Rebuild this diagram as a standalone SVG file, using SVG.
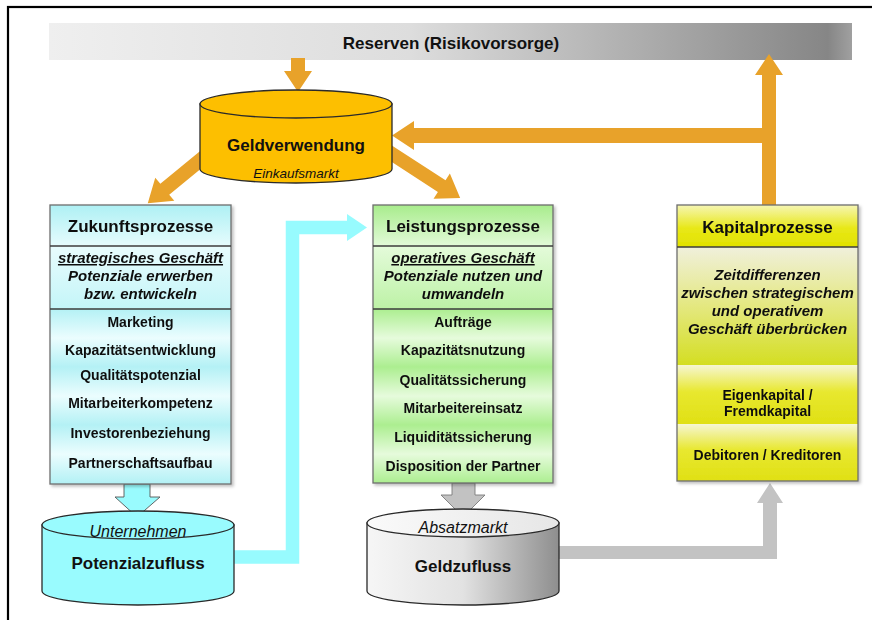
<svg xmlns="http://www.w3.org/2000/svg" width="872" height="620" viewBox="0 0 872 620">
  <style>
    .t { font-family: "Liberation Sans", Arial, sans-serif; fill: #111; text-anchor: middle; }
    .h { font-size: 17px; font-weight: bold; }
    .i { font-size: 14px; font-weight: bold; }
    .s { font-size: 15px; font-weight: bold; font-style: italic; }
    .c { font-size: 16px; font-style: italic; }
    .u { text-decoration: underline; }
    .box { stroke: #6e6e6e; stroke-width: 1.3; }
    .div { stroke: #3c3c3c; stroke-width: 1.3; }
    .cyl { stroke: #2a2a2a; stroke-width: 1.3; }
    .orange { fill: #e8a22a; }
  </style>
  <defs>
    <linearGradient id="barGrad" x1="0" y1="0" x2="1" y2="0">
      <stop offset="0" stop-color="#efefef"/>
      <stop offset="0.45" stop-color="#dddddd"/>
      <stop offset="0.97" stop-color="#868686"/>
      <stop offset="1" stop-color="#a0a0a0"/>
    </linearGradient>
    <!-- cyan box -->
    <linearGradient id="cyHead" x1="0" y1="0" x2="0" y2="1">
      <stop offset="0" stop-color="#aef0f4"/>
      <stop offset="1" stop-color="#e6fcfd"/>
    </linearGradient>
    <linearGradient id="cyMid" x1="0" y1="0" x2="0" y2="1">
      <stop offset="0" stop-color="#e8fcfd"/>
      <stop offset="1" stop-color="#c4f5f8"/>
    </linearGradient>
    <linearGradient id="cyStripe" gradientUnits="userSpaceOnUse" x1="0" y1="309" x2="0" y2="338" spreadMethod="reflect">
      <stop offset="0" stop-color="#b4f1f5"/>
      <stop offset="1" stop-color="#ebfdfe"/>
    </linearGradient>
    <!-- green box -->
    <linearGradient id="grHead" x1="0" y1="0" x2="0" y2="1">
      <stop offset="0" stop-color="#a8ec8c"/>
      <stop offset="1" stop-color="#e2fad8"/>
    </linearGradient>
    <linearGradient id="grMid" x1="0" y1="0" x2="0" y2="1">
      <stop offset="0" stop-color="#e4fbda"/>
      <stop offset="1" stop-color="#bdf2a6"/>
    </linearGradient>
    <linearGradient id="grStripe" gradientUnits="userSpaceOnUse" x1="0" y1="309" x2="0" y2="338" spreadMethod="reflect">
      <stop offset="0" stop-color="#acee90"/>
      <stop offset="1" stop-color="#e6fbdc"/>
    </linearGradient>
    <!-- yellow box -->
    <linearGradient id="yeHead" x1="0" y1="0" x2="0" y2="1">
      <stop offset="0" stop-color="#f6f6b4"/>
      <stop offset="0.55" stop-color="#e8e818"/>
      <stop offset="1" stop-color="#e2e200"/>
    </linearGradient>
    <linearGradient id="yeMid" x1="0" y1="0" x2="0" y2="1">
      <stop offset="0" stop-color="#f0f0dc"/>
      <stop offset="0.5" stop-color="#e4e880"/>
      <stop offset="1" stop-color="#d4de22"/>
    </linearGradient>
    <linearGradient id="yeLow" x1="0" y1="0" x2="0" y2="1">
      <stop offset="0" stop-color="#f6f6d2"/>
      <stop offset="0.45" stop-color="#e8e830"/>
      <stop offset="1" stop-color="#e0e014"/>
    </linearGradient>
    <!-- grey cylinder -->
    <linearGradient id="greyCyl" x1="0" y1="0" x2="1" y2="0">
      <stop offset="0" stop-color="#f6f6f6"/>
      <stop offset="0.5" stop-color="#e2e2e2"/>
      <stop offset="1" stop-color="#8e8e8e"/>
    </linearGradient>
    <linearGradient id="greyTop" x1="0" y1="0" x2="1" y2="0">
      <stop offset="0" stop-color="#fafafa"/>
      <stop offset="1" stop-color="#e6e6e6"/>
    </linearGradient>
    <filter id="shadow" x="-10%" y="-10%" width="125%" height="125%">
      <feDropShadow dx="2" dy="2" stdDeviation="1.5" flood-color="#000" flood-opacity="0.25"/>
    </filter>
  </defs>

  <rect width="872" height="620" fill="#ffffff"/>
  <!-- outer frame -->
  <rect x="8" y="7" width="900" height="700" fill="none" stroke="#000" stroke-width="2.2"/>

  <!-- reserves bar -->
  <g id="reserven">
    <rect x="49" y="23" width="803" height="37" fill="url(#barGrad)"/>
    <text class="t h" x="451" y="49">Reserven (Risikovorsorge)</text>
  </g>

  <!-- connectors -->
  <g id="connectors">
    <!-- reserves down to Geldverwendung -->
    <polygon class="orange" points="291,58 305,58 305,71 312,71 298,92 284,71 291,71"/>
    <!-- Geldverwendung to Zukunftsprozesse -->
    <polygon class="orange" transform="translate(215,148) rotate(140.6)" points="0,-7 65,-7 65,-15 87,0 65,15 65,7 0,7"/>
    <!-- Geldverwendung to Leistungsprozesse -->
    <polygon class="orange" transform="translate(383,148) rotate(33)" points="0,-7 70,-7 70,-15 92,0 70,15 70,7 0,7"/>
    <!-- Kapitalprozesse up to reserves -->
    <polygon class="orange" points="762,205 762,75 755,75 769,54 783,75 776,75 776,205"/>
    <!-- branch back to Geldverwendung -->
    <polygon class="orange" points="769,128 414,128 414,121 392,135.5 414,150 414,143 769,143"/>

    <!-- Zukunftsprozesse down to Potenzialzufluss -->
    <polygon points="124,484 150,484 150,497 160,497 137,517 115,497 124,497" fill="#99fbfe" stroke="#555" stroke-width="0.9"/>
    <!-- Potenzialzufluss to Leistungsprozesse -->
    <polyline points="234,557 292.5,557 292.5,227.5 350,227.5" fill="none" stroke="#97fbfe" stroke-width="13.5"/>
    <polygon points="347,214 367,227.5 347,241" fill="#97fbfe"/>

    <!-- Leistungsprozesse down to Geldzufluss -->
    <polygon points="452,483 475,483 475,495 485,495 463,517 441,495 452,495" fill="#c2c2c2" stroke="#7a7a7a" stroke-width="0.9"/>
    <!-- Geldzufluss to Kapitalprozesse -->
    <polygon points="559,546 763,546 763,503 757,503 770,483 783,503 777,503 777,559 559,559" fill="#c3c3c3"/>
  </g>

  <!-- Geldverwendung cylinder -->
  <g id="geldverwendung">
    <path class="cyl" d="M200,104 L200,169 A96,14 0 0 0 392,169 L392,104 Z" fill="#fdbf00"/>
    <ellipse class="cyl" cx="296" cy="104" rx="96" ry="14" fill="#fdbf00"/>
    <text class="t h" x="296" y="151">Geldverwendung</text>
    <text class="t" x="296" y="177.5" style="font-size:13.5px;font-style:italic">Einkaufsmarkt</text>
  </g>

  <!-- Zukunftsprozesse -->
  <g id="zukunftsprozesse" filter="url(#shadow)">
    <rect x="50" y="205" width="181" height="41" fill="url(#cyHead)"/>
    <rect x="50" y="246" width="181" height="63" fill="url(#cyMid)"/>
    <rect x="50" y="309" width="181" height="175" fill="url(#cyStripe)"/>
    <rect class="box" x="50" y="205" width="181" height="279" fill="none"/>
    <line class="div" x1="50" y1="246" x2="231" y2="246"/>
    <line class="div" x1="50" y1="309" x2="231" y2="309"/>
    <text class="t h" x="140.5" y="232">Zukunftsprozesse</text>
    <text class="t s u" x="140.5" y="263">strategisches Geschäft</text>
    <text class="t s" x="140.5" y="281">Potenziale erwerben</text>
    <text class="t s" x="140.5" y="299">bzw. entwickeln</text>
    <text class="t i" x="140.5" y="327">Marketing</text>
    <text class="t i" x="140.5" y="355">Kapazitätsentwicklung</text>
    <text class="t i" x="140.5" y="380">Qualitätspotenzial</text>
    <text class="t i" x="140.5" y="408">Mitarbeiterkompetenz</text>
    <text class="t i" x="140.5" y="438">Investorenbeziehung</text>
    <text class="t i" x="140.5" y="468">Partnerschaftsaufbau</text>
  </g>

  <!-- Leistungsprozesse -->
  <g id="leistungsprozesse" filter="url(#shadow)">
    <rect x="373" y="205" width="180" height="41" fill="url(#grHead)"/>
    <rect x="373" y="246" width="180" height="63" fill="url(#grMid)"/>
    <rect x="373" y="309" width="180" height="174" fill="url(#grStripe)"/>
    <rect class="box" x="373" y="205" width="180" height="278" fill="none"/>
    <line class="div" x1="373" y1="246" x2="553" y2="246"/>
    <line class="div" x1="373" y1="309" x2="553" y2="309"/>
    <text class="t h" x="463" y="232">Leistungsprozesse</text>
    <text class="t s u" x="463" y="263">operatives Geschäft</text>
    <text class="t s" x="463" y="281">Potenziale nutzen und</text>
    <text class="t s" x="463" y="299">umwandeln</text>
    <text class="t i" x="463" y="327">Aufträge</text>
    <text class="t i" x="463" y="355">Kapazitätsnutzung</text>
    <text class="t i" x="463" y="385">Qualitätssicherung</text>
    <text class="t i" x="463" y="413">Mitarbeitereinsatz</text>
    <text class="t i" x="463" y="442">Liquiditätssicherung</text>
    <text class="t i" x="463" y="471">Disposition der Partner</text>
  </g>

  <!-- Kapitalprozesse -->
  <g id="kapitalprozesse" filter="url(#shadow)">
    <rect x="677" y="205" width="181" height="42" fill="url(#yeHead)"/>
    <rect x="677" y="247" width="181" height="118" fill="url(#yeMid)"/>
    <rect x="677" y="365" width="181" height="59" fill="url(#yeLow)"/>
    <rect x="677" y="424" width="181" height="57" fill="url(#yeLow)"/>
    <rect class="box" x="677" y="205" width="181" height="276" fill="none"/>
    <line class="div" x1="677" y1="247" x2="858" y2="247"/>
    <text class="t h" x="767.5" y="233">Kapitalprozesse</text>
    <text class="t s" x="767.5" y="280">Zeitdifferenzen</text>
    <text class="t s" x="767.5" y="298">zwischen strategischem</text>
    <text class="t s" x="767.5" y="316">und operativem</text>
    <text class="t s" x="767.5" y="333.5">Geschäft überbrücken</text>
    <text class="t i" x="767.5" y="400">Eigenkapital /</text>
    <text class="t i" x="767.5" y="415.5">Fremdkapital</text>
    <text class="t i" x="767.5" y="460">Debitoren / Kreditoren</text>
  </g>

  <!-- Potenzialzufluss cylinder -->
  <g id="potenzialzufluss">
    <path class="cyl" d="M42,525 L42,591 A96,14 0 0 0 234,591 L234,525 Z" fill="#99fbfe"/>
    <ellipse class="cyl" cx="138" cy="525" rx="96" ry="14" fill="#99fbfe"/>
    <text class="t c" x="138" y="536.5">Unternehmen</text>
    <text class="t h" x="138" y="569">Potenzialzufluss</text>
  </g>

  <!-- Geldzufluss cylinder -->
  <g id="geldzufluss">
    <path class="cyl" d="M367,523 L367,591 A96,14 0 0 0 559,591 L559,523 Z" fill="url(#greyCyl)"/>
    <ellipse class="cyl" cx="463" cy="523" rx="96" ry="14" fill="url(#greyTop)"/>
    <text class="t c" x="463" y="532.5">Absatzmarkt</text>
    <text class="t h" x="463" y="572">Geldzufluss</text>
  </g>
</svg>
